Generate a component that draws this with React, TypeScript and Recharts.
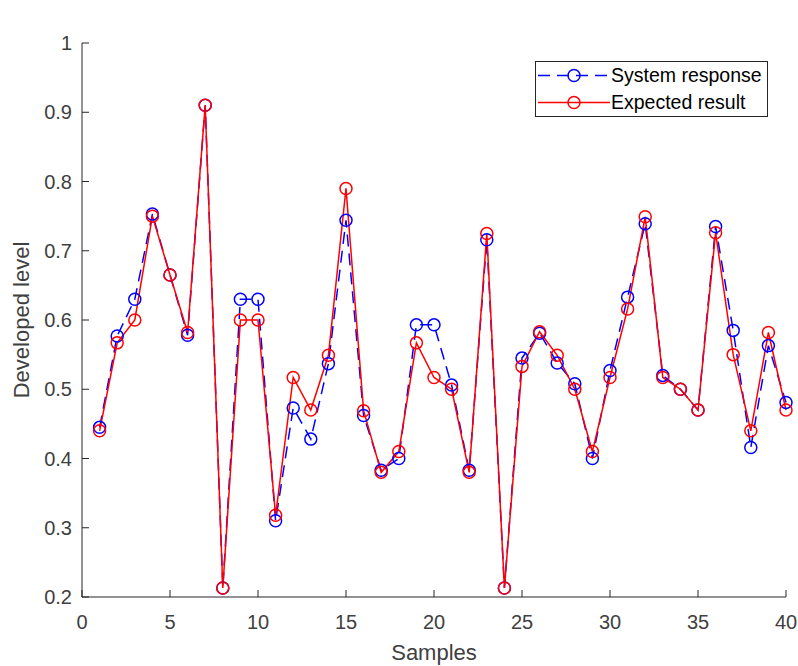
import React from 'react';
import { LineChart, Line, XAxis, YAxis, Legend } from 'recharts';

const samples = Array.from({ length: 40 }, (_, i) => i + 1);

const systemResponse = [
  0.445, 0.577, 0.63, 0.753, 0.665, 0.578, 0.91, 0.213, 0.63, 0.63,
  0.31, 0.473, 0.428, 0.537, 0.744, 0.462, 0.383, 0.4, 0.593, 0.593,
  0.506, 0.383, 0.716, 0.213, 0.545, 0.581, 0.538, 0.508, 0.4, 0.527,
  0.633, 0.739, 0.52, 0.5, 0.47, 0.735, 0.585, 0.416, 0.563, 0.481,
];

const expectedResult = [
  0.44, 0.567, 0.6, 0.75, 0.665, 0.582, 0.91, 0.213, 0.6, 0.6,
  0.318, 0.517, 0.47, 0.549, 0.79, 0.469, 0.38, 0.41, 0.567, 0.517,
  0.5, 0.38, 0.725, 0.213, 0.533, 0.583, 0.549, 0.5, 0.41, 0.517,
  0.616, 0.749, 0.517, 0.5, 0.47, 0.726, 0.55, 0.44, 0.582, 0.47,
];

const xTicks = [0, 5, 10, 15, 20, 25, 30, 35, 40];
const yTicks = [0.2, 0.3, 0.4, 0.5, 0.6, 0.7, 0.8, 0.9, 1];

const data = samples.map((s, i) => ({
  sample: s,
  system: systemResponse[i],
  expected: expectedResult[i],
}));

const FONT = '"Liberation Sans", Arial, Helvetica, sans-serif';
const AXIS = '#262626';
const TEXT = '#404040';
const TICK_LEN = 7;

const BottomTick = (props: any) => {
  const { x, y, payload } = props;
  return (
    <g>
      <line x1={x} x2={x} y1={y} y2={y - TICK_LEN} stroke={AXIS} />
      <text x={x} y={y + 32} textAnchor="middle" fontSize={20} fill={TEXT} fontFamily={FONT}>
        {payload.value}
      </text>
    </g>
  );
};

const TopTick = (props: any) => {
  const { x, y } = props;
  return <line x1={x} x2={x} y1={y} y2={y + TICK_LEN} stroke={AXIS} />;
};

const LeftTick = (props: any) => {
  const { x, y, payload } = props;
  const v = Math.round(payload.value * 10) / 10;
  return (
    <g>
      <line x1={x} x2={x + TICK_LEN} y1={y} y2={y} stroke={AXIS} />
      <text x={x - 10} y={y + 7} textAnchor="end" fontSize={20} fill={TEXT} fontFamily={FONT}>
        {String(v)}
      </text>
    </g>
  );
};

const RightTick = (props: any) => {
  const { x, y } = props;
  return <line x1={x} x2={x - TICK_LEN} y1={y} y2={y} stroke={AXIS} />;
};

const makeDot = (color: string) => (props: any) => {
  const { cx, cy, index } = props;
  return <circle key={index} cx={cx} cy={cy} r={6} fill="none" stroke={color} strokeWidth={1.5} />;
};

const legendItems = [
  { label: 'System response', color: '#0000ff', dash: '12 7' },
  { label: 'Expected result', color: '#ff0000', dash: undefined },
];

const renderLegend = () => (
  <div
    style={{
      width: 233,
      height: 56,
      boxSizing: 'border-box',
      border: `1px solid ${AXIS}`,
      background: '#fff',
      fontFamily: FONT,
      fontSize: 19.5,
      color: '#000',
    }}
  >
    {legendItems.map((it) => (
      <div key={it.label} style={{ display: 'flex', alignItems: 'center', height: 27 }}>
        <svg width={75} height={27} style={{ flex: 'none' }}>
          <line x1={2} x2={74} y1={13.5} y2={13.5} stroke={it.color} strokeWidth={1.5} strokeDasharray={it.dash} />
          <circle cx={38} cy={13.5} r={6} fill="none" stroke={it.color} strokeWidth={1.5} />
        </svg>
        <span style={{ whiteSpace: 'nowrap' }}>{it.label}</span>
      </div>
    ))}
  </div>
);

export default function App() {
  return (
    <div style={{ position: 'absolute', left: 0, top: 0, width: 798, height: 666, background: '#fff' }}>
      <LineChart width={798} height={666} data={data} margin={{ top: 43, right: 12, bottom: 0, left: 0 }}>
        <XAxis
          dataKey="sample"
          type="number"
          domain={[0, 40]}
          ticks={xTicks}
          tick={<BottomTick />}
          tickLine={false}
          tickSize={0}
          tickMargin={0}
          height={69}
          axisLine={{ stroke: AXIS }}
          label={{
            content: (p: any) => (
              <text
                x={p.viewBox.x + p.viewBox.width / 2}
                y={660}
                textAnchor="middle"
                fontSize={22}
                fill={TEXT}
                fontFamily={FONT}
              >
                Samples
              </text>
            ),
          }}
        />
        <XAxis
          xAxisId="top"
          orientation="top"
          dataKey="sample"
          type="number"
          domain={[0, 40]}
          ticks={xTicks}
          tick={<TopTick />}
          tickLine={false}
          tickSize={0}
          tickMargin={0}
          height={0}
          axisLine={{ stroke: AXIS }}
          label={{
            content: (p: any) => (
              <text
                x={p.viewBox.x + p.viewBox.width / 2}
                y={30}
                textAnchor="middle"
                fontSize={22}
                fontWeight="bold"
                fill="#000"
                fontFamily={FONT}
              >
                EFLD 2
              </text>
            ),
          }}
        />
        <YAxis
          type="number"
          domain={[0.2, 1]}
          ticks={yTicks}
          tick={<LeftTick />}
          tickLine={false}
          tickSize={0}
          tickMargin={0}
          width={82}
          axisLine={{ stroke: AXIS }}
          label={{
            content: (p: any) => {
              const cy = p.viewBox.y + p.viewBox.height / 2;
              return (
                <text
                  x={29}
                  y={cy}
                  transform={`rotate(-90 29 ${cy})`}
                  textAnchor="middle"
                  fontSize={22}
                  fill={TEXT}
                  fontFamily={FONT}
                >
                  Developed level
                </text>
              );
            },
          }}
        />
        <YAxis
          yAxisId="right"
          orientation="right"
          type="number"
          domain={[0.2, 1]}
          ticks={yTicks}
          tick={<RightTick />}
          tickLine={false}
          tickSize={0}
          tickMargin={0}
          width={0}
          axisLine={{ stroke: AXIS }}
        />
        <Legend
          layout="vertical"
          align="center"
          verticalAlign="middle"
          content={renderLegend}
          wrapperStyle={{ left: 535, top: 61, width: 233, height: 56 }}
        />
        <Line
          dataKey="system"
          name="System response"
          stroke="#0000ff"
          strokeWidth={1.5}
          strokeDasharray="12 7"
          dot={makeDot('#0000ff')}
          activeDot={false}
          isAnimationActive={false}
        />
        <Line
          dataKey="expected"
          name="Expected result"
          stroke="#ff0000"
          strokeWidth={1.5}
          dot={makeDot('#ff0000')}
          activeDot={false}
          isAnimationActive={false}
        />
      </LineChart>
    </div>
  );
}
